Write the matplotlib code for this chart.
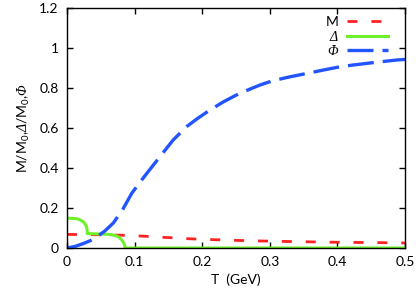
import matplotlib
matplotlib.use("Agg")
import matplotlib.pyplot as plt

plt.rcParams['font.family'] = ['Lato', 'DejaVu Sans']
plt.rcParams['mathtext.fontset'] = 'custom'
plt.rcParams['mathtext.rm'] = 'Lato'
plt.rcParams['mathtext.sf'] = 'Liberation Serif:italic'

# Data
T_phi = [0.0, 0.012, 0.024, 0.034, 0.044, 0.056, 0.0685, 0.082, 0.0957, 0.107, 0.118, 0.1376, 0.157, 0.177,
         0.192, 0.2115, 0.231, 0.246, 0.256, 0.2855, 0.305, 0.33, 0.355, 0.378, 0.399, 0.421, 0.443, 0.466, 0.488, 0.5]
phi = [0.0, 0.008, 0.022, 0.036, 0.055, 0.085, 0.125, 0.19, 0.273, 0.325, 0.373, 0.457, 0.54, 0.607,
       0.645, 0.69, 0.73, 0.757, 0.774, 0.815, 0.837, 0.856, 0.873, 0.889, 0.903, 0.914, 0.923, 0.932, 0.94, 0.943]

T_m = [0.0, 0.05, 0.08, 0.108, 0.145, 0.182, 0.214, 0.251, 0.288, 0.318, 0.355, 0.39, 0.42, 0.458, 0.5]
m = [0.068, 0.066, 0.064, 0.06, 0.053, 0.046, 0.042, 0.038, 0.035, 0.033, 0.031, 0.029, 0.028, 0.027, 0.025]

T_delta = [0.0, 0.01, 0.0148, 0.02, 0.025, 0.028, 0.0296, 0.030, 0.04, 0.05, 0.062, 0.068, 0.0725, 0.0765,
           0.081, 0.084, 0.0855, 0.086, 0.2, 0.5]
delta = [0.149, 0.148, 0.146, 0.14, 0.128, 0.113, 0.098, 0.072, 0.071, 0.07, 0.068, 0.065, 0.061, 0.055,
         0.04, 0.025, 0.01, 0.0, 0.0, 0.0]

fig = plt.figure(figsize=(4.16, 2.92), dpi=100)
ax = fig.add_axes([67/416, 1-248/292, (405-67)/416, (248-8)/292])

ax.plot(T_m, m, color='#ff2222', lw=2.0, dashes=(3.6, 5), label='M')
ax.plot(T_delta, delta, color='#6ef02a', lw=2.2, label=r'$\mathsf{\Delta}$')
ax.plot(T_phi, phi, color='#2255ff', lw=2.4, dashes=(7.8, 2.7), label=r'$\mathsf{\Phi}$')

ax.set_xlim(0, 0.5)
ax.set_ylim(0, 1.2)
ax.set_xticks([0, 0.1, 0.2, 0.3, 0.4, 0.5])
ax.set_xticklabels(['0', '0.1', '0.2', '0.3', '0.4', '0.5'])
ax.set_yticks([0, 0.2, 0.4, 0.6, 0.8, 1.0, 1.2])
ax.set_yticklabels(['0', '0.2', '0.4', '0.6', '0.8', '1', '1.2'])
ax.tick_params(direction='in', length=4, width=1, top=True, right=True, labelsize=10, pad=6)
for s in ax.spines.values():
    s.set_linewidth(1)
ax.set_xlabel('T  (GeV)', fontsize=10, labelpad=4)
ax.set_ylabel(r'M/M$_0$,$\mathsf{\Delta}$/M$_0$,$\mathsf{\Phi}$', fontsize=10, labelpad=5)

leg = ax.legend(loc='upper right', frameon=False, markerfirst=False, fontsize=10,
                handlelength=2.9, labelspacing=0.05, borderaxespad=0.2, borderpad=0.2,
                handletextpad=0.6, bbox_to_anchor=(0.965, 0.99))

fig.savefig('out.png', dpi=100)
